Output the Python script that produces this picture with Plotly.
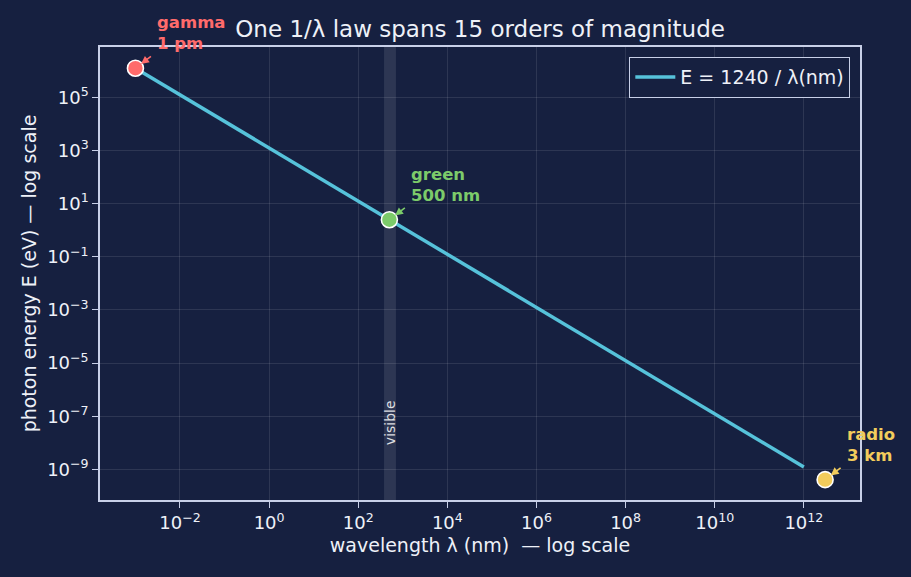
import math
import plotly.graph_objects as go

# ---- data ----
line_wavelength_nm = [1e-3, 1e12]
line_energy_ev = [1.24e6, 1.24e-9]

marker_names = ["gamma<br>1 pm", "green<br>500 nm", "radio<br>3 km"]
marker_wavelength_nm = [1e-3, 500, 3e12]
marker_energy_ev = [1.24e6, 2.48, 4.13e-10]
marker_colors = ["#ff6b6b", "#7ccb6a", "#f2cc5c"]

visible_band_nm = [380, 700]
visible_label_pos = [516, 6e-8]

x_tick_vals = [1e-2, 1e0, 1e2, 1e4, 1e6, 1e8, 1e10, 1e12]
x_tick_text = ["10<sup>−2</sup>", "10<sup>0</sup>", "10<sup>2</sup>", "10<sup>4</sup>",
               "10<sup>6</sup>", "10<sup>8</sup>", "10<sup>10</sup>", "10<sup>12</sup>"]
y_tick_vals = [1e5, 1e3, 1e1, 1e-1, 1e-3, 1e-5, 1e-7, 1e-9]
y_tick_text = ["10<sup>5</sup>", "10<sup>3</sup>", "10<sup>1</sup>", "10<sup>−1</sup>",
               "10<sup>−3</sup>", "10<sup>−5</sup>", "10<sup>−7</sup>", "10<sup>−9</sup>"]

BG = "#162040"
SPINE = "#c8d0e8"
TEXT = "#eef1f8"
FONT = "DejaVu Sans"

fig = go.Figure()

fig.add_vrect(x0=visible_band_nm[0], x1=visible_band_nm[1],
              fillcolor="rgba(255,255,255,0.1)", line_width=0, layer="below")

fig.add_trace(go.Scatter(
    x=line_wavelength_nm, y=line_energy_ev, mode="lines",
    line=dict(color="#56c2da", width=3.5),
    name="E = 1240 / λ(nm)"))

fig.add_trace(go.Scatter(
    x=marker_wavelength_nm, y=marker_energy_ev, mode="markers",
    marker=dict(size=16, color=marker_colors, line=dict(color="white", width=1.6)),
    showlegend=False, hoverinfo="skip"))

for name, xv, yv, c in zip(marker_names, marker_wavelength_nm, marker_energy_ev, marker_colors):
    lx, ly = math.log10(xv), math.log10(yv)
    fig.add_annotation(x=lx, y=ly, xref="x", yref="y", text="", showarrow=True,
                       ax=17, ay=-13, axref="pixel", ayref="pixel",
                       arrowhead=2, arrowsize=1, arrowwidth=1.6, arrowcolor=c, standoff=7)
    fig.add_annotation(x=lx, y=ly, xref="x", yref="y", text="<b>" + name + "</b>",
                       showarrow=False, xanchor="left", yanchor="bottom", align="left",
                       xshift=20, yshift=13, font=dict(family=FONT, size=16.5, color=c))

fig.add_annotation(x=math.log10(visible_label_pos[0]), y=math.log10(visible_label_pos[1]),
                   xref="x", yref="y", text="visible", showarrow=False,
                   textangle=-90, font=dict(family=FONT, size=14, color="rgba(255,255,255,0.85)"))

axis_common = dict(
    type="log", showline=True, linecolor=SPINE, linewidth=1.5, mirror=True,
    ticks="outside", ticklen=6, tickwidth=1.2, tickcolor=SPINE,
    showgrid=True, gridcolor="rgba(255,255,255,0.1)", gridwidth=1,
    zeroline=False, tickmode="array",
    tickfont=dict(family=FONT, size=18, color=TEXT),
)

fig.update_xaxes(**axis_common, range=[-3.795, 13.26], tickvals=x_tick_vals, ticktext=x_tick_text,
                 title=dict(text="wavelength λ (nm)  — log scale",
                            font=dict(family=FONT, size=19, color=TEXT), standoff=6))
fig.update_yaxes(**axis_common, range=[-10.15, 6.89], tickvals=y_tick_vals, ticktext=y_tick_text,
                 title=dict(text="photon energy E (eV) — log scale",
                            font=dict(family=FONT, size=19, color=TEXT), standoff=6))

fig.update_layout(
    width=911, height=577,
    margin=dict(l=100, r=51, t=47, b=77),
    paper_bgcolor=BG, plot_bgcolor=BG,
    title=dict(text="One 1/λ law spans 15 orders of magnitude", x=0.527, xanchor="center",
               y=0.95, yanchor="middle", yref="container",
               font=dict(family=FONT, size=23, color=TEXT)),
    legend=dict(x=0.987, xanchor="right", y=0.978, yanchor="top",
                bgcolor=BG, bordercolor=SPINE, borderwidth=1.2, itemwidth=40,
                font=dict(family=FONT, size=19, color=TEXT)),
    showlegend=True,
)

fig.write_html("out.html")
